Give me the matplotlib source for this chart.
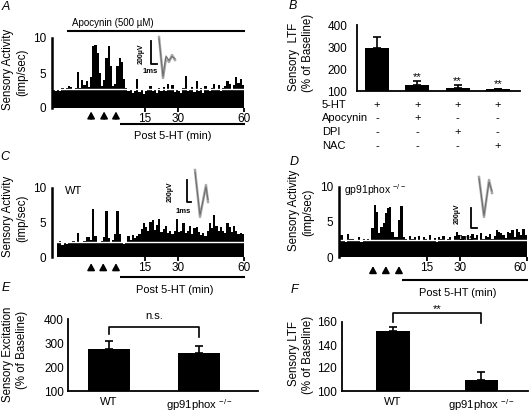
import matplotlib
matplotlib.use('Agg')
import matplotlib.pyplot as plt
import numpy as np
from matplotlib.transforms import blended_transform_factory

plt.rcParams['font.family'] = ['Liberation Sans', 'DejaVu Sans']
plt.rcParams['mathtext.fontset'] = 'custom'
plt.rcParams['mathtext.rm'] = 'Liberation Sans'
plt.rcParams['mathtext.it'] = 'Liberation Sans:italic'

# ---------------- data ----------------
# firing-rate histograms (imp/sec), 1-min bins
a_t0 = -27
a_rate = [2.6, 2.4, 2.7, 2.5, 2.8, 2.6, 2.9, 3.2, 3.0, 2.6,
          2.9, 5.1, 2.8, 4.0, 3.3, 3.8, 3.0, 4.5, 8.8, 9.0,
          7.8, 5.0, 3.2, 4.0, 7.2, 8.8, 6.0, 3.2, 3.4, 6.0,
          7.1, 6.6, 4.2, 2.8, 2.4, 2.6, 2.2, 2.5, 4.1, 2.3,
          2.6, 2.0, 2.5, 2.7, 3.2, 2.4, 2.6, 2.2, 2.8, 2.5,
          3.0, 2.4, 3.5, 2.6, 3.3, 2.3, 2.7, 2.5, 2.2, 2.8,
          4.6, 2.4, 2.6, 3.0, 2.3, 3.9, 2.5, 2.8, 2.2, 3.1,
          2.6, 2.4, 2.9, 3.4, 2.6, 3.3, 2.5, 2.8, 3.2, 3.8,
          3.4, 2.6, 3.3, 4.5, 3.6, 4.1, 3.3]
a_base = 2.7

c_t0 = -25
c_rate = [2.0, 2.3, 1.8, 2.1, 1.9, 2.2, 2.0, 2.3, 2.1, 3.5,
          2.0, 2.2, 2.3, 2.9, 2.9, 2.4, 6.9, 3.0, 2.2, 2.0,
          2.3, 2.9, 6.7, 2.8, 2.1, 2.4, 3.3, 6.7, 3.3, 2.1,
          1.9, 2.2, 3.0, 2.4, 3.2, 2.8, 3.1,
          3.3, 4.0, 4.9, 4.4, 3.7, 5.1, 5.4, 3.9, 4.6, 5.5,
          3.6, 4.0, 4.5, 3.5, 3.8, 3.4, 3.8, 5.5, 3.6, 3.8,
          4.9, 3.5, 3.8, 4.5, 3.4, 4.2, 4.4, 3.6, 3.2, 3.5,
          3.1, 3.7, 4.9, 4.2, 6.1, 4.5, 3.8, 4.4, 3.8, 3.5,
          4.9, 4.4, 3.6, 4.5, 3.7, 3.3, 3.5, 3.4]
c_base = 2.2

d_t0 = -25
d_rate = [2.3, 3.1, 2.4, 2.2, 3.3, 2.5, 2.6, 2.3, 2.4, 2.8,
          2.2, 2.5, 2.3, 2.6, 2.4, 4.1, 7.4, 6.4, 3.4, 4.3,
          4.8, 6.3, 7.0, 7.2, 3.6, 2.9, 2.8, 5.3, 7.3, 2.9,
          2.6, 2.4, 3.0, 2.5, 2.8, 2.3, 3.0, 2.4, 2.9, 2.5,
          2.3, 3.1, 2.4, 2.7, 2.2, 2.9, 2.5, 3.0, 2.3, 2.6,
          2.8, 2.4, 3.0, 3.6, 3.2, 2.6, 3.0, 2.4, 3.2, 2.5,
          3.3, 2.7, 3.1, 2.4, 3.4, 2.6, 3.0, 2.8, 3.3, 2.5,
          3.0, 3.9, 3.5, 3.4, 3.2, 2.7, 3.6, 3.4, 3.8, 2.9,
          4.0, 3.5, 3.2, 4.0, 3.1]
d_base = 2.5

time_ticks = [15, 30, 60]
a_arrows = [-9.5, -3.6, 1.8]
c_arrows = [-9.5, -4.0, 1.8]
d_arrows = [-9.3, -3.5, 2.4]

# spike waveforms (ms, uV)
a_wave_t = [0, 0.67, 1.17, 1.67, 2.17, 2.67]
a_wave_v1 = [174, -183, -9, -43, 17, -26]
a_wave_v2 = [160, -170, 10, -30, 5, -15]
c_wave_t = [0, 1.11, 2.44, 2.89]
c_wave_v1 = [209, -218, 73, -82]
c_wave_v2 = [190, -200, 55, -60]
d_wave_t = [0, 0.83, 1.67, 2.17]
d_wave_v1 = [200, -200, 170, 40]
d_wave_v2 = [185, -185, 150, 60]

# panel B
b_means = [295, 127, 113, 107]
b_errs = [50, 18, 14, 3]
b_rows = ['5-HT', 'Apocynin', 'DPI', 'NAC']
b_table = [['+', '+', '+', '+'],
           ['-', '+', '-', '-'],
           ['-', '-', '+', '-'],
           ['-', '-', '-', '+']]
b_sig = ['', '**', '**', '**']

# panel E
e_groups = ['WT', 'gp91phox $^{-/-}$']
e_means = [275, 260]
e_errs = [33, 27]

# panel F
f_groups = ['WT', 'gp91phox $^{-/-}$']
f_means = [152, 110]
f_errs = [3.5, 6.5]

# ---------------- layout ----------------
W, H = 529, 412
fig = plt.figure(figsize=(W / 100, H / 100), dpi=100)


def pax(x0, y0, x1, y1):
    return fig.add_axes([x0 / W, 1 - y1 / H, (x1 - x0) / W, (y1 - y0) / H])


def ft(x, y, s, **kw):
    kw.setdefault('ha', 'center')
    kw.setdefault('va', 'center')
    return fig.text(x / W, 1 - y / H, s, **kw)


def hist_panel(ax, t0, rate, base, xlim, arrows, arrow_y, post_y, post_x0, post_text_y, post_text_x):
    edges = t0 + np.arange(len(rate) + 1)
    vals = np.r_[rate, rate[-1]]
    ax.fill_between(edges, vals, step='post', color='black', lw=0)
    ax.axhline(base, color='white', lw=1.0)
    ax.set_xlim(*xlim)
    ax.set_ylim(0, 10)
    for s in ['top', 'right', 'bottom']:
        ax.spines[s].set_visible(False)
    ax.spines['left'].set_linewidth(1.8)
    ax.set_xticks(time_ticks)
    ax.set_xticklabels([str(t) for t in time_ticks])
    ax.tick_params(axis='x', length=3, width=1.3, pad=0.5, labelsize=8.5)
    ax.set_yticks([0, 5, 10])
    ax.tick_params(axis='y', length=0, pad=4, labelsize=8.5)
    for t in arrows:
        ax.annotate('', xy=(t, arrow_y[1]), xytext=(t, arrow_y[0]),
                    arrowprops=dict(arrowstyle='-|>,head_width=0.22,head_length=0.4',
                                    color='black', lw=1.2, shrinkA=0, shrinkB=0),
                    annotation_clip=False)
    ax.plot([post_x0, xlim[1]], [post_y, post_y], color='black', lw=1.5, clip_on=False,
            solid_capstyle='butt')
    ax.text(post_text_x, post_text_y, 'Post 5-HT (min)', ha='center', va='center', fontsize=7.9)


def wave_inset(ox, oy, ppm, ppv, t, v1, v2, bar_x, bar_y, lab_v, lab_ms):
    ax = pax(ox - 45, oy - 45, ox + 45, oy + 45)
    ax.set_xlim(-45 / ppm, 45 / ppm)
    ax.set_ylim(-45 / ppv, 45 / ppv)
    ax.axis('off')
    ax.patch.set_visible(False)
    ax.plot(t, v1, color='#a8a8a8', lw=1.8, clip_on=False)
    ax.plot(t, v2, color='#6a6a6a', lw=0.7, clip_on=False)
    ax.plot([bar_x, bar_x, bar_x + 1], [bar_y + 200, bar_y, bar_y], color='black', lw=1.3,
            clip_on=False)
    ax.text(lab_v[0], lab_v[1], '200µV', rotation=90, ha='center', va='center', fontsize=5,
            fontweight='bold', clip_on=False)
    ax.text(lab_ms[0], lab_ms[1], '1ms', ha='center', va='center', fontsize=5.5,
            fontweight='bold', clip_on=False)


# ---- Panel A ----
axA = pax(52, 38, 245, 108)
hist_panel(axA, a_t0, a_rate, a_base, (-27.3, 60.5), a_arrows, (-1.57, -0.5),
           -2.3, 3.6, -4.0, 27.5)
axA.plot([-20.5, 60.5], [11.0, 11.0], color='black', lw=1.5, clip_on=False, solid_capstyle='butt')
axA.text(0.5, 12.15, 'Apocynin (500 µM)', ha='center', va='center', fontsize=7)
ft(8, 69, 'Sensory Activity', rotation=90, fontsize=8.3)
ft(22, 72, '(imp/sec)', rotation=90, fontsize=8.3)
ft(6, 7, 'A', fontsize=9, style='italic')
wave_inset(159, 57, 6.0, 0.115, a_wave_t, a_wave_v1, a_wave_v2, -1.33, -65, (-3.0, 26), (-1.4, -130))

# ---- Panel C ----
axC = pax(52, 188, 245, 257)
hist_panel(axC, c_t0, c_rate, c_base, (-27.3, 60.5), c_arrows, (-1.74, -0.9),
           -2.9, 3.6, -4.8, 28.6)
axC.text(-21.5, 9.6, 'WT', ha='left', va='center', fontsize=8)
ft(8, 216, 'Sensory Activity', rotation=90, fontsize=8.3)
ft(22, 218, '(imp/sec)', rotation=90, fontsize=8.3)
ft(5, 157, 'C', fontsize=9, style='italic')
wave_inset(195, 193, 4.5, 0.11, c_wave_t, c_wave_v1, c_wave_v2, -1.78, -82, (-5.6, 9), (-2.7, -164))

# ---- Panel D ----
axD = pax(339, 187, 528, 257)
hist_panel(axD, d_t0, d_rate, d_base, (-24.6, 60.5), d_arrows, (-2.3, -1.3),
           -3.3, 3.7, -5.1, 28.9)
axD.get_xticklabels()[-1].set_ha('right')
axD.text(-22.2, 9.6, 'gp91phox $^{-/-}$', ha='left', va='center', fontsize=7.5)
ft(294, 210, 'Sensory Activity', rotation=90, fontsize=8.3)
ft(308, 212, '(imp/sec)', rotation=90, fontsize=8.3)
ft(294, 162, 'D', fontsize=9, style='italic')
wave_inset(479, 197, 6.0, 0.1, d_wave_t, d_wave_v1, d_wave_v2, -1.33, -310, (-3.7, -170), (-2.2, -420))


def bar_axes(ax, ylim, yticks, pad):
    ax.set_ylim(*ylim)
    ax.set_yticks(yticks)
    for s in ['top', 'right']:
        ax.spines[s].set_visible(False)
    ax.spines['left'].set_linewidth(1.3)
    ax.spines['bottom'].set_linewidth(1.3)
    ax.tick_params(axis='y', length=0, pad=pad, labelsize=8.5)


# ---- Panel B ----
axB = pax(357, 25, 520, 91)
xb = np.arange(len(b_means))
axB.bar(xb, np.array(b_means) - 100, bottom=100, width=0.6, color='black')
axB.errorbar(xb, b_means, yerr=[np.zeros(len(b_errs)), b_errs], fmt='none', ecolor='black',
             elinewidth=1.2, capsize=3, capthick=1.2)
axB.set_xlim(-0.5, 3.55)
bar_axes(axB, (100, 400), [100, 200, 300, 400], 7)
axB.set_xticks([])
for i, s in enumerate(b_sig):
    if s:
        axB.text(xb[i], b_means[i] + b_errs[i] + 20, s, ha='center', va='center', fontsize=8)
trB = blended_transform_factory(axB.transData, axB.transAxes)
row_y = [-0.212, -0.409, -0.621, -0.833]
for r, (name, row) in enumerate(zip(b_rows, b_table)):
    axB.text(-1.37, row_y[r], name, ha='left', va='center', fontsize=8, transform=trB)
    for i, sym in enumerate(row):
        axB.text(xb[i], row_y[r], sym, ha='center', va='center', fontsize=8, transform=trB)
ft(294, 57, 'Sensory  LTF', rotation=90, fontsize=8.3)
ft(308, 53, '(% of Baseline)', rotation=90, fontsize=8.3)
ft(293, 6, 'B', fontsize=9, style='italic')

# ---- Panel E ----
axE = pax(68, 319, 258, 391)
xe = np.arange(len(e_means))
axE.bar(xe, np.array(e_means) - 100, bottom=100, width=0.47, color='black')
axE.errorbar(xe, e_means, yerr=[np.zeros(2), e_errs], fmt='none', ecolor='black',
             elinewidth=1.2, capsize=3, capthick=1.2)
axE.set_xlim(-0.456, 1.656)
bar_axes(axE, (100, 400), [100, 200, 300, 400], 3)
axE.set_xticks(xe)
axE.set_xticklabels(e_groups, fontsize=8.1)
axE.tick_params(axis='x', length=0, pad=4.5)
axE.plot([0, 0, 1, 1], [337, 367, 367, 325], color='black', lw=1.2, clip_on=False)
axE.text(0.5, 412, 'n.s.', ha='center', va='center', fontsize=8)
ft(8, 354, 'Sensory Excitation', rotation=90, fontsize=8.3)
ft(22, 350, '(% of Baseline)', rotation=90, fontsize=8.3)
ft(6, 288, 'E', fontsize=9, style='italic')

# ---- Panel F ----
axF = pax(342, 322, 528, 391)
xf = np.arange(len(f_means))
axF.bar(xf, np.array(f_means) - 100, bottom=100, width=0.38, color='black')
axF.errorbar(xf, f_means, yerr=[np.zeros(2), f_errs], fmt='none', ecolor='black',
             elinewidth=1.2, capsize=3, capthick=1.2)
axF.set_xlim(-0.58, 1.53)
bar_axes(axF, (100, 160), [100, 120, 140, 160], 4)
axF.set_xticks(xf)
axF.set_xticklabels(f_groups, fontsize=8.1)
axF.tick_params(axis='x', length=0, pad=4.5)
axF.plot([0, 0, 1, 1], [160, 167.8, 167.8, 159], color='black', lw=1.2, clip_on=False)
axF.text(0.5, 171, '**', ha='center', va='center', fontsize=8)
ft(294, 353, 'Sensory LTF', rotation=90, fontsize=8.3)
ft(308, 355, '(% of Baseline)', rotation=90, fontsize=8.3)
ft(294, 290, 'F', fontsize=9, style='italic')

fig.savefig('out.png', dpi=100)
